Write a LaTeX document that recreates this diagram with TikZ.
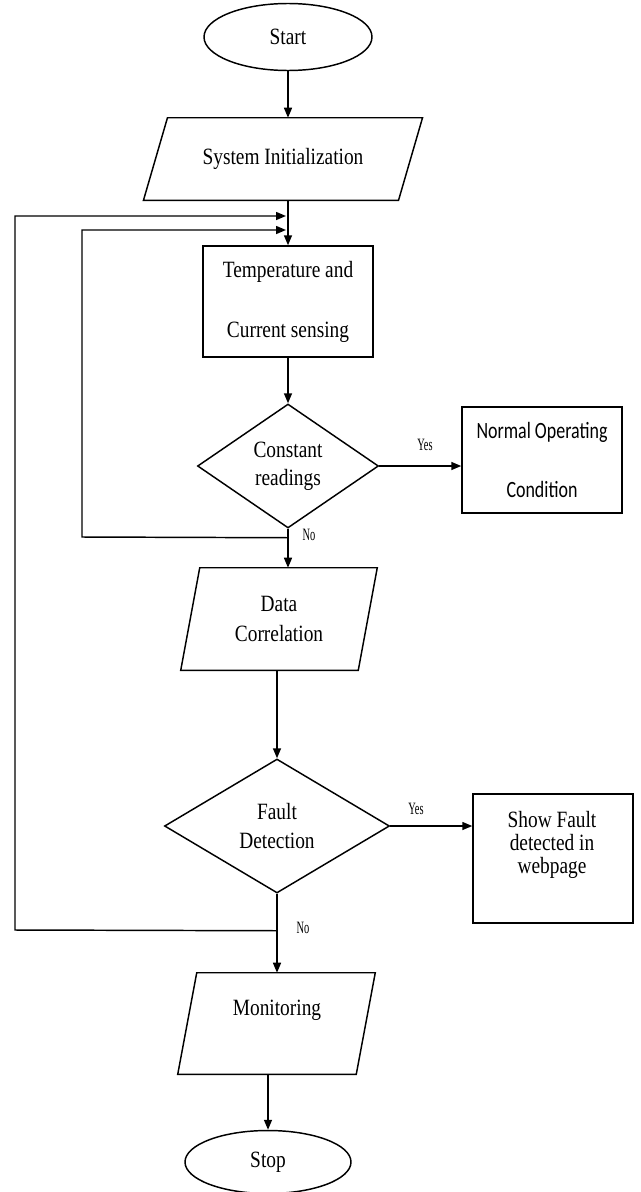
\documentclass[tikz,border=0pt]{standalone}
\usepackage{fontspec}
\setmainfont{Liberation Serif}[FakeStretch=0.83]
\newfontfamily\lblfont{Liberation Serif}[FakeStretch=0.6]
\newfontfamily\calfont{Carlito}[FakeStretch=0.77]
\usetikzlibrary{shapes.geometric,arrows.meta,calc}
\newcommand\parashape[2]{%
  \draw[line] ($(#1.north west)+(#2,0)$) -- ($(#1.north east)+(#2,0)$) --
    ($(#1.south east)-(#2,0)$) -- ($(#1.south west)-(#2,0)$) -- cycle;}
\begin{document}
\begin{tikzpicture}[x=0.75pt,y=-0.75pt,
  line/.style={line width=1.1pt},
  arr/.style={line width=1.1pt,-{Triangle[length=7.5pt,width=6pt]}},
  txt/.style={font=\fontsize{17.5pt}{21pt}\selectfont,align=center,inner sep=0pt},
  box/.style={txt,draw,line width=1.1pt,rectangle},
  plain/.style={txt,rectangle},
  ell/.style={txt,draw,line width=1.1pt,ellipse},
  dia/.style={txt,draw,line width=1.1pt,diamond},
  lbl/.style={font=\lblfont\fontsize{13pt}{15pt}\selectfont,inner sep=0pt}
]
\useasboundingbox (0,0) rectangle (641,1192);

% nodes
\node[ell,minimum width=126pt,minimum height=50.25pt] (start) at (288,37) {Start};
\node[plain,minimum width=190.9pt,minimum height=61.5pt] (init) at (283,159) {System Initialization};
\parashape{init}{12}
\node[box,minimum width=127.5pt,minimum height=83.25pt,
  font=\fontsize{17.5pt}{45pt}\selectfont] (temp) at (288,301.5) {Temperature and\\Current sensing};
\node[dia,aspect=1.46,minimum width=135.75pt,minimum height=93pt,
  font=\fontsize{17.5pt}{21pt}\selectfont] (d1) at (288,466) {Constant\\readings};
\node[box,minimum width=120pt,minimum height=79.5pt,
  font=\calfont\fontsize{17.5pt}{44.25pt}\selectfont] (normal) at (542,460) {Normal Operating\\Condition};
\node[plain,minimum width=132.75pt,minimum height=76.5pt,
  font=\fontsize{17.5pt}{22.5pt}\selectfont] (data) at (279,619) {Data\\Correlation};
\parashape{data}{9.5}
\node[dia,aspect=1.68,minimum width=168.75pt,minimum height=100.5pt,
  font=\fontsize{17.5pt}{21.75pt}\selectfont] (fault) at (277,826) {Fault\\Detection};
\node[box,minimum width=120pt,minimum height=96.75pt] (show) at (553,858.5) {};
\node[txt,font=\fontsize{17.5pt}{17.5pt}\selectfont] (showtext) at (552,845) {Show Fault\\detected in\\webpage};
\node[plain,minimum width=133.5pt,minimum height=75.75pt] (mon) at (276.5,1023.5) {};
\parashape{mon}{9.5}
\node[txt] (montext) at (277,1010) {Monitoring};
\node[ell,minimum width=124.5pt,minimum height=47.25pt] (stop) at (268,1162) {Stop};

% labels
\node[lbl] (yes1) at (425,445) {Yes};
\node[lbl] (no1) at (309,535) {No};
\node[lbl] (yes2) at (416,809) {Yes};
\node[lbl] (no2) at (303,928) {No};

% helper coordinates
\coordinate (in2) at (286,216);
\coordinate (in1) at (286,230);
\coordinate (j2) at ($(d1.south)+(0,9)$);
\coordinate (L1) at (82,537);
\coordinate (j3) at ($(fault.south)+(0,37)$);
\coordinate (L2) at (15,930);

% connectors
\draw[arr] (start.south) -- (start.south |- init.north);
\draw[arr] (temp.north |- init.south) -- (temp.north);
\draw[arr] (temp.south) -- (d1.north);
\draw[arr] (d1.east) -- (d1.east -| normal.west);
\draw[arr] (d1.south) -- (d1.south |- data.north);
\draw[arr] (j2) -- (L1) |- (in1);
\draw[arr] (fault.north |- data.south) -- (fault.north);
\draw[arr] (fault.east) -- (fault.east -| show.west);
\draw[arr] (fault.south) -- (fault.south |- mon.north);
\draw[arr] (j3) -- (L2) |- (in2);
\draw[arr] (stop.north |- mon.south) -- (stop.north);
\end{tikzpicture}
\end{document}
